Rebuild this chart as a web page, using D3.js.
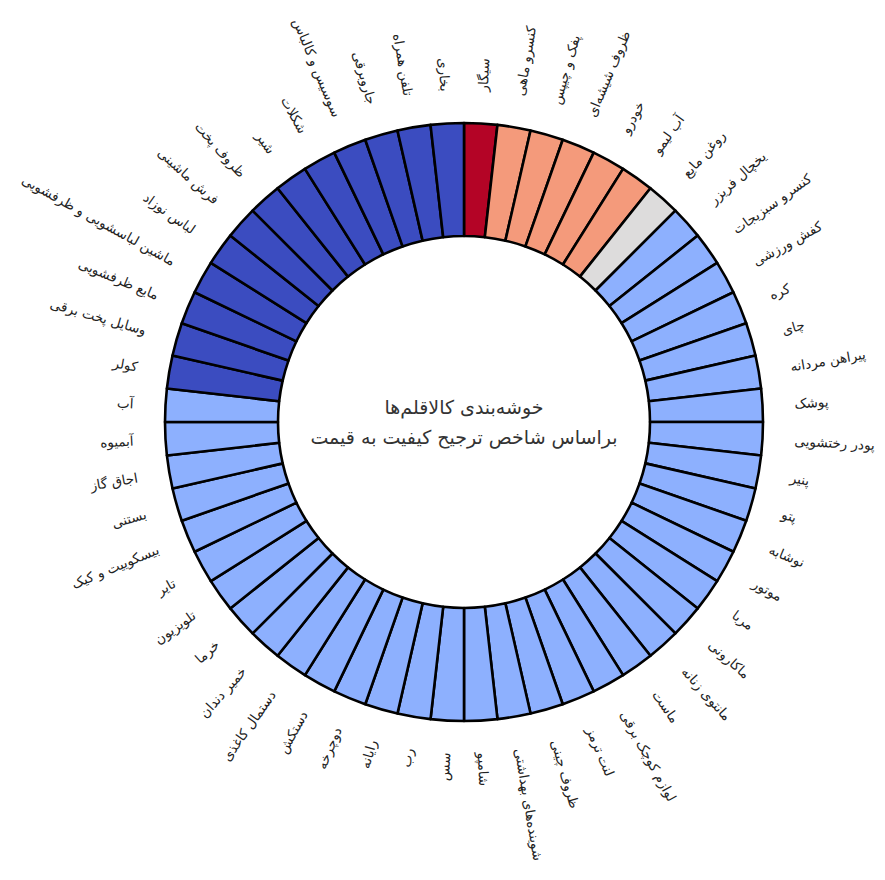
<!DOCTYPE html>
<html>
<head>
<meta charset="utf-8">
<script src="https://cdn.jsdelivr.net/npm/d3@7/dist/d3.min.js"></script>
<style>
  html, body { margin: 0; padding: 0; background: #fff; }
  svg { display: block; }
</style>
</head>
<body>
<svg id="chart" width="885" height="880"></svg>
<script>
// ---- Data (clockwise from 12 o'clock), grouped by cluster ----
const clusterRed = ["سیگار"];
const clusterSalmon = ["کنسرو ماهی", "پفک و چیپس", "ظروف شیشه‌ای", "خودرو", "آب لیمو"];
const clusterGrey = ["روغن مایع"];
const clusterLightBlue = [
  "یخچال فریزر", "کنسرو سبزیجات", "کفش ورزشی", "کره", "چای", "پیراهن مردانه",
  "پوشک", "پودر رختشویی", "پنیر", "پتو", "نوشابه", "موتور", "مربا", "ماکارونی",
  "مانتوی زنانه", "ماست", "لوازم کوچک برقی", "لنت ترمز", "ظروف چینی",
  "شوینده‌های بهداشتی", "شامپو", "سس", "رب", "رایانه", "دوچرخه", "دستکش",
  "دستمال کاغذی", "خمیر دندان", "خرما", "تلویزیون", "تایر", "بیسکوییت و کیک",
  "بستنی", "اجاق گاز", "آبمیوه", "آب"
];
const clusterDarkBlue = [
  "کولر", "وسایل پخت برقی", "مایع ظرفشویی", "ماشین لباسشویی و ظرفشویی",
  "لباس نوزاد", "فرش ماشینی", "ظروف پخت", "شیر", "شکلات", "سوسیس و کالباس",
  "جاروبرقی", "تلفن همراه", "بخاری"
];
const clusterGroups = [clusterRed, clusterSalmon, clusterGrey, clusterLightBlue, clusterDarkBlue];
const clusterColors = ["#b40426", "#f49a7b", "#dddcdc", "#8db0fe", "#3b4cc0"];
const titleLines = ["خوشه‌بندی کالاقلم‌ها", "براساس شاخص ترجیح کیفیت به قیمت"];

// ---- Build table ----
const items = [];
clusterGroups.forEach((g, ci) => g.forEach(name => items.push({ name, cluster: ci })));

const cx = 464, cy = 422;
const outerR = 299, innerR = 186, labelR = 331;

const svg = d3.select("#chart");
const g = svg.append("g").attr("transform", `translate(${cx},${cy})`);

const pie = d3.pie().sort(null).value(() => 1);
const arcs = pie(items);
const arc = d3.arc().innerRadius(innerR).outerRadius(outerR);
const color = d3.scaleOrdinal().domain(d3.range(clusterColors.length)).range(clusterColors);

g.selectAll("path.slice")
  .data(arcs)
  .join("path")
  .attr("class", "slice")
  .attr("d", arc)
  .attr("fill", d => color(d.data.cluster))
  .attr("stroke", "#000")
  .attr("stroke-width", 2.6)
  .attr("stroke-linejoin", "round");

const midDeg = d => (d.startAngle + d.endAngle) / 2 * 180 / Math.PI;

// labels
g.selectAll("text.lbl")
  .data(arcs)
  .join("text")
  .attr("class", "lbl")
  .attr("transform", d => {
    const deg = midDeg(d);
    if (deg < 180) return `rotate(${deg - 90}) translate(${labelR},0)`;
    return `rotate(${deg - 90}) translate(${labelR},0) rotate(180)`;
  })
  .attr("text-anchor", d => midDeg(d) < 180 ? "start" : "end")
  .attr("dominant-baseline", "central")
  .attr("font-family", "DejaVu Sans, sans-serif")
  .attr("font-size", 13.5)
  .attr("fill", "#222")
  .text(d => d.data.name);

// center title
g.selectAll("text.title")
  .data(titleLines)
  .join("text")
  .attr("class", "title")
  .attr("x", 0)
  .attr("y", (d, i) => -15 + i * 30)
  .attr("text-anchor", "middle")
  .attr("dominant-baseline", "central")
  .attr("font-family", "DejaVu Sans, sans-serif")
  .attr("font-size", 19)
  .attr("fill", "#333")
  .text(d => d);
</script>
</body>
</html>
